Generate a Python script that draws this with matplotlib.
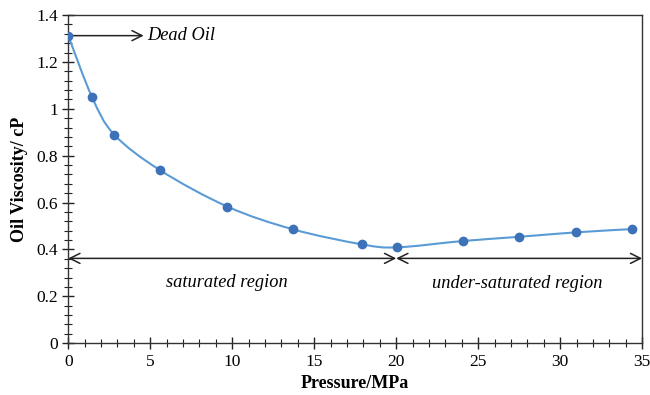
import matplotlib
matplotlib.use("Agg")
import matplotlib.pyplot as plt
import numpy as np
from matplotlib.path import Path
from matplotlib.patches import PathPatch
from matplotlib.ticker import MultipleLocator, FuncFormatter

pressure = [0.0, 1.45, 2.8, 5.6, 9.7, 13.7, 17.9, 20.05, 24.05, 27.5, 30.95, 34.4]
viscosity = [1.312, 1.05, 0.89, 0.738, 0.583, 0.486, 0.422, 0.409, 0.436, 0.454, 0.473, 0.487]

plt.rcParams['font.family'] = ['Liberation Serif', 'DejaVu Serif']

fig = plt.figure(figsize=(6.5, 3.95), dpi=100)
ax = fig.add_axes([0.105, 0.131, 0.883, 0.831])

# smooth curve (Catmull-Rom -> Bezier) through the data points
x = np.array(pressure); y = np.array(viscosity)
verts = [(x[0], y[0])]
codes = [Path.MOVETO]
n = len(x)
for i in range(n - 1):
    p0 = np.array([x[max(i - 1, 0)], y[max(i - 1, 0)]])
    p1 = np.array([x[i], y[i]])
    p2 = np.array([x[i + 1], y[i + 1]])
    p3 = np.array([x[min(i + 2, n - 1)], y[min(i + 2, n - 1)]])
    c1 = p1 + (p2 - p0) / 6.0
    c2 = p2 - (p3 - p1) / 6.0
    verts += [tuple(c1), tuple(c2), tuple(p2)]
    codes += [Path.CURVE4] * 3
ax.add_patch(PathPatch(Path(verts, codes), fill=False, edgecolor='#5b9bd5', lw=1.5, zorder=3))
ax.plot(pressure, viscosity, 'o', color='#3d72b8', markersize=6, zorder=4)

ax.set_xlim(0, 35)
ax.set_ylim(0, 1.4)
ax.xaxis.set_major_locator(MultipleLocator(5))
ax.xaxis.set_minor_locator(MultipleLocator(1))
ax.yaxis.set_major_locator(MultipleLocator(0.2))
ax.yaxis.set_minor_locator(MultipleLocator(0.04))
ax.yaxis.set_major_formatter(FuncFormatter(lambda v, p: f"{v:g}"))
ax.tick_params(which='major', direction='inout', length=8, width=1, labelsize=12.5, color='#222222')
ax.tick_params(which='minor', direction='inout', length=6, width=0.8, color='#222222')
ax.tick_params(top=False, right=False)
for s in ax.spines.values():
    s.set_color('#333333')
    s.set_linewidth(1)

ax.set_xlabel('Pressure/MPa', fontsize=13, fontweight='bold', labelpad=4)
ax.set_ylabel('Oil Viscosity/ cP', fontsize=13, fontweight='bold', labelpad=6)

# annotations
arrow_y = 0.362
ax.annotate('', xy=(0, arrow_y), xytext=(20, arrow_y),
            arrowprops=dict(arrowstyle='<->', color='#222222', lw=1.1,
                            shrinkA=0, shrinkB=0, mutation_scale=18))
ax.annotate('', xy=(20, arrow_y), xytext=(35, arrow_y),
            arrowprops=dict(arrowstyle='<->', color='#222222', lw=1.1,
                            shrinkA=0, shrinkB=0, mutation_scale=18))
ax.annotate('', xy=(4.6, 1.312), xytext=(0.25, 1.312),
            arrowprops=dict(arrowstyle='->', color='#222222', lw=1.1,
                            shrinkA=0, shrinkB=0, mutation_scale=18))
ax.text(4.8, 1.312, 'Dead Oil', fontsize=13.2, style='italic', va='center', ha='left')
ax.text(9.7, 0.258, 'saturated region', fontsize=13.2, style='italic', va='center', ha='center')
ax.text(27.4, 0.253, 'under-saturated region', fontsize=13.2, style='italic', va='center', ha='center')

fig.savefig('out.png', dpi=100)
